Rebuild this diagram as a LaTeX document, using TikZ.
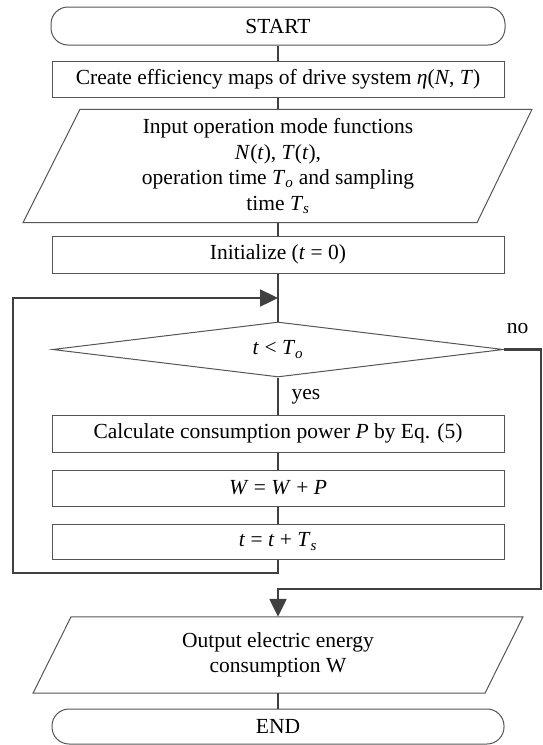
\documentclass[tikz,border=0pt]{standalone}
\usepackage{fontspec}
\setmainfont{Liberation Serif}
\usetikzlibrary{shapes.geometric,arrows.meta,calc}
\definecolor{connc}{HTML}{404040}
\definecolor{edgec}{HTML}{555555}
\newcommand{\vi}[1]{\textit{#1}}
\newcommand{\sbs}[1]{\textsubscript{\textit{#1}}}
\begin{document}
\begin{tikzpicture}[x=1pt,y=-1pt,
  font=\fontsize{21.5}{25.5}\selectfont,
  box/.style={draw=edgec,line width=1pt,minimum width=452pt,inner sep=0pt,anchor=center},
  term/.style={box,rounded corners=17pt},
  plain/.style={inner sep=0pt,minimum width=400pt,align=center},
  edgeline/.style={draw=edgec,line width=1pt},
  conn/.style={draw=connc,line width=2.4pt},
  arr/.style={conn,-{Triangle[length=18pt,width=17pt]}},
  lbl/.style={inner sep=0pt}
]
\useasboundingbox (0,0) rectangle (542,745);

\node[term,minimum height=38pt,minimum width=454pt] (start) at (278,26) {START};
\node[box,minimum height=36pt] (create) at (278,79) {Create efficiency maps of drive system \vi{η}(\vi{N}, \vi{T})};
\node[plain,minimum height=113pt] (inp) at (278,166) {Input operation mode functions\\ \vi{N}(\vi{t}), \vi{T}(\vi{t}),\\ operation time \vi{T}\sbs{o} and sampling\\ time \vi{T}\sbs{s}};
\draw[edgeline] ($(inp.north)+(-198,0)$) -- ($(inp.north)+(254,0)$) -- ($(inp.south)+(199,0)$) -- ($(inp.south)+(-255,0)$) -- cycle;
\node[box,minimum height=37pt] (init) at (278,254.5) {Initialize (\vi{t} = 0)};
\node[draw=edgec,line width=1pt,diamond,aspect=8,minimum width=451pt,minimum height=55pt,inner sep=0pt] (dec) at (278,349.5) {\vi{t} < \vi{T}\sbs{o}};
\node[box,minimum height=37pt] (calc) at (278,433.5) {Calculate consumption power \vi{P} by Eq. (5)};
\node[box,minimum height=36pt] (wbox) at (278,488) {\vi{W} = \vi{W} + \vi{P}};
\node[box,minimum height=35pt] (tbox) at (278,541.5) {\vi{t} = \vi{t} + \vi{T}\sbs{s}};
\node[plain,minimum height=76pt] (out) at (278,655) {Output electric energy\\consumption W};
\draw[edgeline] ($(out.north)+(-207,0)$) -- ($(out.north)+(245,0)$) -- ($(out.south)+(207,0)$) -- ($(out.south)+(-245,0)$) -- cycle;
\node[term,minimum height=35pt] (end) at (278,726.5) {END};

\node[lbl] (yes) at (306,397) {yes};
\node[lbl] (no) at (517.5,329) {no};

\coordinate (merge) at (278,298);
\coordinate (lb) at (13,573);
\coordinate (nr) at (541,589);
\coordinate (nb) at (278,589);

\draw[conn] (start) -- (create);
\draw[conn] (create) -- (inp);
\draw[conn] (inp) -- (init);
\draw[conn] (init) -- (dec);
\draw[conn] (dec) -- (calc);
\draw[conn] (calc) -- (wbox);
\draw[conn] (wbox) -- (tbox);
\draw[conn] (out) -- (end);
\draw[arr] (tbox.south) |- (lb) |- (merge);
\draw[arr] (dec.east) -| (nr) -- (nb) -- (out.north);
\end{tikzpicture}
\end{document}
